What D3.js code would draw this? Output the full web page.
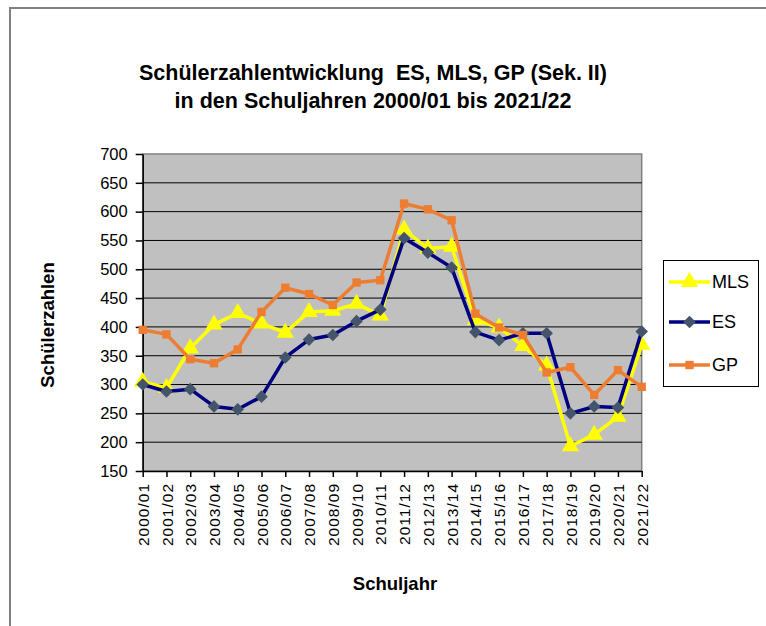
<!DOCTYPE html>
<html>
<head>
<meta charset="utf-8">
<script src="https://cdn.jsdelivr.net/npm/d3@7"></script>
<style>
  body { margin: 0; background: #fff; }
  svg { display: block; font-family: "Liberation Sans", Arial, sans-serif; }
</style>
</head>
<body>
<div id="chart"></div>
<script>
// Daten
const years = ["2000/01","2001/02","2002/03","2003/04","2004/05","2005/06","2006/07","2007/08",
  "2008/09","2009/10","2010/11","2011/12","2012/13","2013/14","2014/15","2015/16","2016/17",
  "2017/18","2018/19","2019/20","2020/21","2021/22"];
const mls = [305, 294, 363, 404, 424, 406, 390, 426, 428, 440, 420, 569, 536, 539, 412, 399, 367, 333, 193, 213, 244, 369];
const es  = [300, 288, 292, 262, 257, 279, 347, 378, 386, 410, 430, 554, 529, 503, 391, 377, 389, 389, 250, 262, 260, 392];
const gp  = [395, 387, 344, 337, 361, 426, 468, 457, 438, 477, 481, 614, 604, 585, 423, 399, 386, 321, 330, 282, 325, 296];
const yTicks = [150, 200, 250, 300, 350, 400, 450, 500, 550, 600, 650, 700];
const seriesNames = ["MLS", "ES", "GP"];

const W = 766, H = 626;
const plot = {left: 142.7, right: 641.7, top: 154, bottom: 471};

const svg = d3.select("#chart").append("svg")
  .attr("width", W).attr("height", H);

// Rahmen
svg.append("path")
  .attr("d", `M10,${H + 2}V8H${W + 2}`)
  .attr("fill", "none").attr("stroke", "#808080").attr("stroke-width", 2);

// Titel
const title = svg.append("text")
  .attr("text-anchor", "middle")
  .style("white-space", "pre")
  .style("font-size", "21.5px").style("font-weight", "bold");
title.append("tspan").attr("x", 373).attr("y", 80).text("Schülerzahlentwicklung  ES, MLS, GP (Sek. II)");
title.append("tspan").attr("x", 373).attr("y", 108).text("in den Schuljahren 2000/01 bis 2021/22");

const x = d3.scalePoint().domain(years).range([plot.left, plot.right]).padding(0);
const y = d3.scaleLinear().domain([150, 700]).range([plot.bottom, plot.top]);

// Plotfläche
svg.append("rect")
  .attr("x", plot.left).attr("y", plot.top)
  .attr("width", plot.right - plot.left).attr("height", plot.bottom - plot.top)
  .attr("fill", "#c0c0c0").attr("stroke", "#808080").attr("stroke-width", 1.5);

// Gitternetz
svg.append("g")
  .selectAll("line")
  .data(yTicks.filter(d => d > 150 && d < 700))
  .enter().append("line")
    .attr("x1", plot.left).attr("x2", plot.right)
    .attr("y1", d => y(d)).attr("y2", d => y(d))
    .attr("stroke", "#000").attr("stroke-width", 1);

// Achsen
const yAxis = svg.append("g")
  .attr("transform", `translate(${plot.left},0)`)
  .call(d3.axisLeft(y).tickValues(yTicks).tickSize(7).tickPadding(8).tickSizeOuter(0));
yAxis.selectAll("text").style("font-size", "16.5px").attr("fill", "#000");
yAxis.selectAll("line, path").attr("stroke", "#000").attr("stroke-width", 1.5);

const xAxis = svg.append("g")
  .attr("transform", `translate(0,${plot.bottom})`)
  .call(d3.axisBottom(x).tickSize(6).tickSizeOuter(0));
xAxis.selectAll("line, path").attr("stroke", "#000").attr("stroke-width", 1.5);
xAxis.selectAll("text")
  .style("font-size", "15.5px").attr("fill", "#000")
  .style("letter-spacing", "1px")
  .attr("text-anchor", "end")
  .attr("transform", "rotate(-90)")
  .attr("x", -12).attr("y", 0).attr("dy", "0.36em");

// Achsentitel
svg.append("text")
  .attr("transform", "translate(54,325) rotate(-90)")
  .attr("text-anchor", "middle")
  .style("font-size", "18.5px").style("font-weight", "bold")
  .text("Schülerzahlen");
svg.append("text")
  .attr("x", 395).attr("y", 590)
  .attr("text-anchor", "middle")
  .style("font-size", "18.5px").style("font-weight", "bold")
  .text("Schuljahr");

// Reihen
const series = [
  {name: "MLS", values: mls, line: "#ffff00", fill: "#ffff00", shape: d3.symbolTriangle, size: 130, rot: 0},
  {name: "ES",  values: es,  line: "#000080", fill: "#44546a", shape: d3.symbolSquare,   size: 80,  rot: 45},
  {name: "GP",  values: gp,  line: "#ed7d31", fill: "#ed7d31", shape: d3.symbolSquare,   size: 70,  rot: 0}
];

const line = d3.line()
  .x((d, i) => x(years[i]))
  .y(d => y(d));

series.forEach(s => {
  const g = svg.append("g");
  g.append("path")
    .attr("d", line(s.values))
    .attr("fill", "none").attr("stroke", s.line).attr("stroke-width", 3.5)
    .attr("stroke-linejoin", "round");
  g.selectAll("path.m")
    .data(s.values)
    .enter().append("path")
      .attr("class", "m")
      .attr("d", d3.symbol().type(s.shape).size(s.size))
      .attr("transform", (d, i) => `translate(${x(years[i])},${y(d)}) rotate(${s.rot})`)
      .attr("fill", s.fill);
});

// Legende
const legend = svg.append("g");
legend.append("rect")
  .attr("x", 663.5).attr("y", 260.5).attr("width", 95).attr("height", 126)
  .attr("fill", "#fff").attr("stroke", "#000").attr("stroke-width", 1);
series.forEach((s, i) => {
  const ly = [282, 322, 365][i];
  legend.append("line")
    .attr("x1", 669).attr("x2", 710).attr("y1", ly).attr("y2", ly)
    .attr("stroke", s.line).attr("stroke-width", 3.5);
  legend.append("path")
    .attr("d", d3.symbol().type(s.shape).size(s.size))
    .attr("transform", `translate(689.5,${ly}) rotate(${s.rot})`)
    .attr("fill", s.fill);
  legend.append("text")
    .attr("x", 712).attr("y", ly).attr("dy", "0.36em")
    .style("font-size", "18px")
    .text(seriesNames[i]);
});
</script>
</body>
</html>
